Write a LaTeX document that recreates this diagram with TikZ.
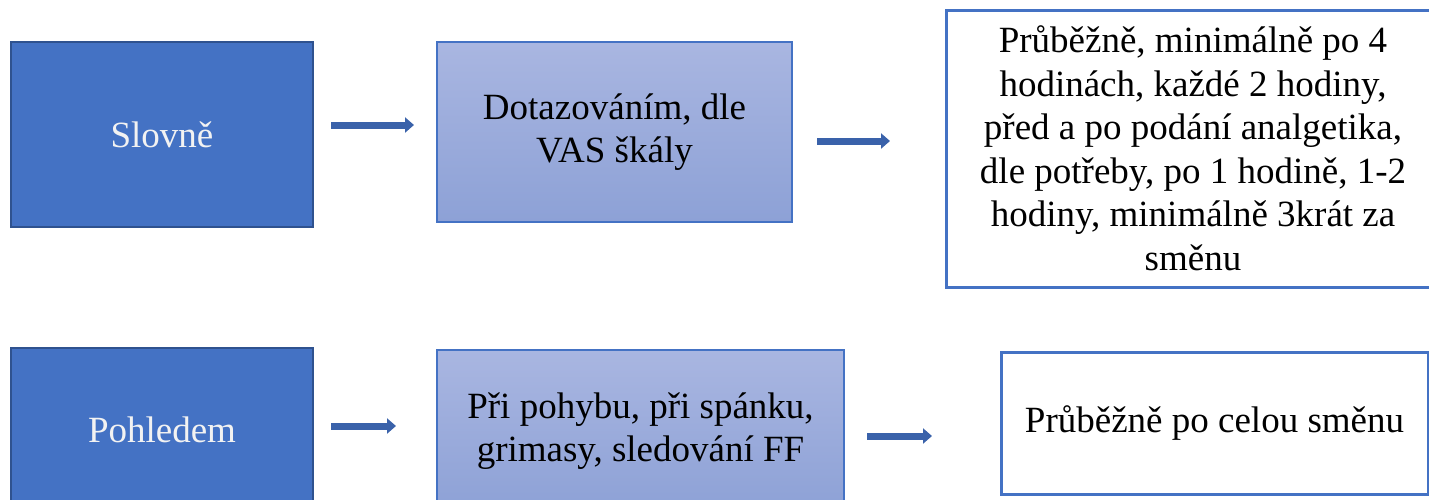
\documentclass[tikz,border=0pt]{standalone}
\usepackage{fontspec}
\setmainfont{Liberation Serif}
\usetikzlibrary{arrows.meta}
\definecolor{darkfill}{HTML}{4472C4}
\definecolor{darkedge}{HTML}{2F528F}
\definecolor{gradtop}{HTML}{A9B6E1}
\definecolor{gradbot}{HTML}{8DA1D6}
\definecolor{edgeblue}{HTML}{4472C4}
\definecolor{arrowblue}{HTML}{3A62AA}
\definecolor{arrowlight}{HTML}{4F78C0}
\tikzset{
  base/.style={rectangle, align=center, inner sep=0pt,
    font=\fontsize{37}{43.5}\selectfont},
  darkbox/.style={base, fill=darkfill, draw=darkedge, line width=2.5pt, text=white!95!black},
  gradbox/.style={base, top color=gradtop, bottom color=gradbot, draw=edgeblue, line width=2.5pt, text=black},
  whitebox/.style={base, fill=white, draw=edgeblue, line width=3pt, text=black},
  blockarrow/.style={draw=arrowblue, line width=7pt,
    -{Triangle[length=9pt, width=15pt]}},
}
\begin{document}
\begin{tikzpicture}[x=1pt,y=-1pt]
\useasboundingbox (0,0) rectangle (1429,499);
\clip (0,0) rectangle (1429,499);
\fill[white] (0,0) rectangle (1429,499);

\node[darkbox, minimum width=302pt, minimum height=185pt] (s1) at (162,134.5) {Slovně};
\node[gradbox, minimum width=355pt, minimum height=180pt] (d1) at (614.5,132) {Dotazováním, dle\\VAS škály};
\node[whitebox, minimum width=494pt, minimum height=277pt] (r1) at (1193,148.5)
  {Průběžně, minimálně po 4\\hodinách, každé 2 hodiny,\\před a po podání analgetika,\\dle potřeby, po 1 hodině, 1-2\\hodiny, minimálně 3krát za\\směnu};

\node[darkbox, minimum width=302pt, minimum height=164pt] (s2) at (162,430) {Pohledem};
\node[gradbox, minimum width=407pt, minimum height=162pt] (d2) at (640.5,431) {Při pohybu, při spánku,\\grimasy, sledování FF};
\node[whitebox, minimum width=427pt, minimum height=142pt] (r2) at (1214.5,423) {Průběžně po celou směnu};

\coordinate (a1s) at (331,125);  \coordinate (a1e) at (414,125);
\coordinate (a2s) at (817,141);  \coordinate (a2e) at (890,141);
\coordinate (a3s) at (331,426);  \coordinate (a3e) at (396,426);
\coordinate (a4s) at (867,436);  \coordinate (a4e) at (932,436);

\draw[blockarrow] (a1s) -- (a1e);
\draw[blockarrow] (a2s) -- (a2e);
\draw[blockarrow] (a3s) -- (a3e);
\draw[blockarrow] (a4s) -- (a4e);
\end{tikzpicture}
\end{document}
